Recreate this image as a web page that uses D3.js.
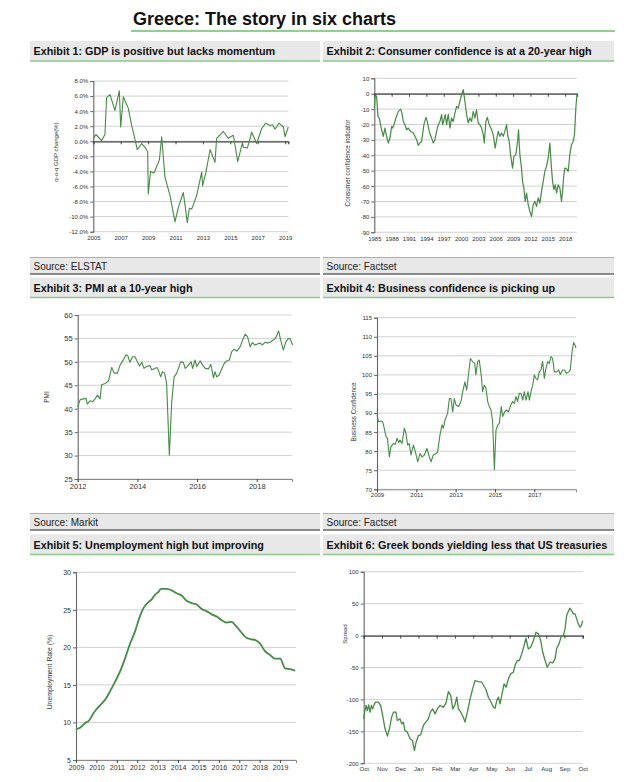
<!DOCTYPE html>
<html><head><meta charset="utf-8">
<script src="https://cdn.jsdelivr.net/npm/d3@7"></script>
<style>body{margin:0;background:#fff;} svg{display:block;font-family:"Liberation Sans",Arial,Helvetica,sans-serif;}</style>
</head><body><svg id="c" width="633" height="782"></svg>
<script>
const pageTitle = "Greece: The story in six charts";
const exhibitTitles = [
  "Exhibit 1: GDP is positive but lacks momentum",
  "Exhibit 2: Consumer confidence is at a 20-year high",
  "Exhibit 3: PMI at a 10-year high",
  "Exhibit 4: Business confidence is picking up",
  "Exhibit 5: Unemployment high but improving",
  "Exhibit 6: Greek bonds yielding less that US treasuries"
];
const sources = ["Source: ELSTAT", "Source: Factset", "Source: Markit", "Source: Factset"];
const yTitles = ["q-o-q GDP change(%)", "Consumer confidence indicator", "PMI", "Business Confidence", "Unemployment Rate (%)", "Spread"];

// Exhibit 1: GDP q-o-q change (%)
const gdpYears = [2005.0,2005.19,2005.61,2005.85,2005.97,2006.22,2006.58,2006.9,2007.0,2007.19,2007.55,2007.8,2007.92,2008.21,2008.53,2008.77,2008.97,2009.01,2009.18,2009.43,2009.82,2009.99,2010.23,2010.6,2010.96,2011.2,2011.57,2011.86,2012.01,2012.18,2012.54,2012.91,2012.98,2013.22,2013.52,2013.88,2014.0,2014.49,2014.85,2015.22,2015.54,2015.88,2015.95,2016.24,2016.56,2016.92,2017.29,2017.58,2017.9,2018.09,2018.26,2018.55,2018.87,2018.99,2019.23];
const gdpValues = [0.35,0.9,0.1,0.9,5.8,6.2,4.1,6.7,1.9,5.9,4.4,2.1,1.2,-1.1,-0.3,-0.8,-1.4,-7.0,-4.0,-4.2,-2.5,0.6,-4.8,-7.2,-10.7,-8.8,-6.8,-10.8,-8.9,-9.0,-7.2,-4.1,-5.9,-4.1,-1.1,-2.8,0.4,1.3,0.4,0.8,-2.7,-0.2,-0.8,-0.9,1.2,-0.3,1.7,2.4,2.1,2.2,1.6,2.4,1.9,0.6,1.9];
const gdpYTicks = [8,6,4,2,0,-2,-4,-6,-8,-10,-12];
const gdpXTicks = [2005,2007,2009,2011,2013,2015,2017,2019];

// Exhibit 2: Consumer confidence indicator
const ccYears = [1985.0,1985.17,1985.4,1985.63,1985.86,1986.27,1986.56,1986.84,1987.13,1987.42,1987.71,1988.0,1988.17,1988.4,1988.74,1989.15,1989.55,1989.78,1990.01,1990.3,1990.59,1990.88,1991.28,1991.74,1992.03,1992.32,1992.6,1992.89,1993.18,1993.58,1993.93,1994.16,1994.5,1994.91,1995.2,1995.48,1995.77,1996.06,1996.35,1996.64,1996.81,1997.04,1997.27,1997.5,1997.79,1998.08,1998.36,1998.65,1998.94,1999.23,1999.52,1999.8,2000.09,2000.38,2000.67,2000.96,2001.24,2001.53,2001.82,2002.11,2002.4,2002.68,2002.97,2003.26,2003.55,2003.84,2004.01,2004.3,2004.53,2004.87,2005.28,2005.56,2005.91,2006.14,2006.43,2006.72,2007.0,2007.29,2007.58,2007.87,2008.1,2008.33,2008.56,2008.91,2009.14,2009.48,2009.77,2009.94,2010.17,2010.46,2010.63,2010.86,2011.09,2011.33,2011.61,2011.9,2012.19,2012.48,2012.77,2013.05,2013.34,2013.63,2013.92,2014.21,2014.49,2014.78,2015.07,2015.36,2015.59,2015.82,2016.05,2016.28,2016.51,2016.8,2017.09,2017.37,2017.55,2017.78,2017.95,2018.24,2018.53,2018.81,2019.1,2019.39,2019.62,2019.85,2020.05];
const ccValues = [-9.3,-1,-1.7,-14.7,-15.8,-23.4,-27.7,-22.3,-27.7,-32,-28.8,-21.2,-22.3,-20.1,-15.8,-11.5,-10,-12.6,-18,-20.1,-23.4,-22.3,-24.5,-25.5,-27.7,-29.9,-33.5,-32,-31,-20.1,-15.4,-18,-24.5,-28.8,-32,-29.9,-24.5,-20.1,-18,-13.6,-20.1,-16.9,-13.6,-20.1,-13.2,-22.3,-15.8,-18,-12.6,-8.2,-9.3,-5,-0.6,2.6,-5,-13.6,-19,-15.8,-18,-11.5,-15.8,-10.4,-19,-20.1,-22.3,-26.6,-32,-18,-15.4,-20.1,-23.4,-26.6,-35.3,-29.9,-24.5,-27.7,-25.5,-27.7,-24.5,-20.1,-27.7,-31,-39.6,-48.3,-40.7,-39.6,-31,-23.4,-39.6,-48.3,-56.9,-61.3,-69.9,-64.5,-72,-76.4,-79.7,-72,-69.9,-73.2,-67.7,-71,-63.4,-56.9,-50.4,-47.2,-41.8,-32,-46.1,-56.9,-62.3,-59.1,-64.5,-59.1,-61.3,-69.9,-63.4,-52.6,-48.3,-48.7,-50.4,-39.6,-33.1,-31,-26.6,-9.3,0];
const ccYTicks = [10,0,-10,-20,-30,-40,-50,-60,-70,-80,-90];
const ccXTicks = [1985,1988,1991,1994,1997,2000,2003,2006,2009,2012,2015,2018];

// Exhibit 3: PMI
const pmiYears = [2012.0,2012.08,2012.19,2012.28,2012.32,2012.41,2012.5,2012.58,2012.66,2012.75,2012.8,2012.92,2013.03,2013.14,2013.22,2013.33,2013.42,2013.51,2013.62,2013.68,2013.75,2013.84,2013.92,2014.0,2014.07,2014.15,2014.22,2014.31,2014.42,2014.48,2014.56,2014.65,2014.7,2014.78,2014.84,2014.91,2014.98,2015.07,2015.15,2015.23,2015.32,2015.45,2015.54,2015.6,2015.71,2015.8,2015.85,2015.93,2015.99,2016.1,2016.19,2016.27,2016.38,2016.46,2016.55,2016.6,2016.66,2016.74,2016.83,2016.91,2016.99,2017.08,2017.16,2017.24,2017.33,2017.44,2017.53,2017.61,2017.69,2017.78,2017.85,2017.94,2018.02,2018.11,2018.19,2018.28,2018.37,2018.47,2018.56,2018.64,2018.73,2018.8,2018.89,2018.97,2019.06,2019.12,2019.2];
const pmiValues = [40.4,41.9,42.1,42.2,41.0,41.7,41.5,42.1,42.9,42.1,45.1,45.4,45.9,48.8,47.6,47.6,49.3,50.2,51.5,51.3,49.9,51.1,51.1,50.0,49.1,49.9,48.6,49.0,49.2,48.3,48.5,48.8,48.3,46.8,47.9,47.6,45.4,30.1,41.5,46.8,47.6,50.0,49.9,48.6,49.3,50.0,48.6,50.4,49.0,50.2,49.3,48.6,48.5,49.5,46.6,47.9,46.8,47.2,48.6,49.7,50.2,50.4,52.2,52.7,52.3,53.2,54.7,55.9,55.4,53.2,54.1,53.6,53.8,54.0,53.6,54.2,54.0,54.3,54.7,55.2,56.6,54.7,52.5,54.2,55.0,54.9,53.6];
const pmiYTicks = [60,55,50,45,40,35,30,25];
const pmiXTicks = [2012,2014,2016,2018];

// Exhibit 4: Business confidence
const bcYears = [2009.0,2009.08,2009.2,2009.29,2009.37,2009.46,2009.53,2009.63,2009.71,2009.83,2009.93,2010.02,2010.1,2010.17,2010.27,2010.39,2010.47,2010.56,2010.64,2010.73,2010.85,2010.95,2011.07,2011.19,2011.29,2011.41,2011.54,2011.66,2011.75,2011.86,2012.0,2012.08,2012.2,2012.31,2012.37,2012.47,2012.59,2012.68,2012.76,2012.85,2012.93,2013.02,2013.15,2013.27,2013.36,2013.47,2013.56,2013.64,2013.75,2013.86,2013.97,2014.03,2014.12,2014.2,2014.31,2014.37,2014.46,2014.54,2014.63,2014.71,2014.8,2014.88,2014.97,2015.05,2015.14,2015.22,2015.32,2015.39,2015.49,2015.59,2015.69,2015.8,2015.9,2015.98,2016.07,2016.15,2016.24,2016.32,2016.41,2016.49,2016.58,2016.68,2016.75,2016.83,2016.92,2017.0,2017.08,2017.17,2017.25,2017.34,2017.42,2017.51,2017.59,2017.68,2017.76,2017.85,2017.93,2018.02,2018.14,2018.24,2018.32,2018.44,2018.53,2018.64,2018.75,2018.83,2018.92,2019.0,2019.08,2019.12];
const bcValues = [89.5,87.7,87.9,87.7,86.0,83.8,83.4,78.5,81.2,82.0,81.8,83.4,82.3,82.9,82.0,86.0,84.7,81.6,82.0,79.0,81.6,79.9,77.2,79.4,78.5,79.0,80.7,78.5,77.2,79.0,79.4,79.7,84.2,86.9,86.0,88.4,89.9,93.8,93.8,90.3,93.8,92.1,91.7,93.0,95.6,98.2,96.0,99.5,104.3,103.5,103.0,100.0,103.5,103.9,99.5,95.6,97.3,96.5,93.0,91.7,90.8,87.7,75.1,85.5,86.9,87.3,91.7,89.1,90.3,90.8,90.3,92.1,93.0,92.5,94.3,93.0,95.2,95.2,93.4,95.6,93.4,95.6,93.4,95.6,97.3,100.0,99.1,98.7,100.8,101.3,103.6,99.1,101.7,103.5,103.0,104.8,104.3,100.8,100.8,101.3,100.1,101.3,101.3,100.4,100.8,101.3,106.1,108.5,107.7,107.0];
const bcYTicks = [115,110,105,100,95,90,85,80,75,70];
const bcXTicks = [2009,2011,2013,2015,2017];

// Exhibit 5: Unemployment rate (%)
const unYears = [2009.0,2009.2,2009.44,2009.65,2009.85,2010.01,2010.26,2010.47,2010.7,2010.91,2011.16,2011.4,2011.65,2011.89,2012.1,2012.3,2012.5,2012.71,2012.87,2013.04,2013.17,2013.44,2013.69,2013.93,2014.18,2014.42,2014.67,2014.92,2015.16,2015.41,2015.65,2015.9,2016.14,2016.39,2016.63,2016.79,2017.04,2017.29,2017.53,2017.77,2018.02,2018.26,2018.5,2018.75,2019.0,2019.25,2019.49,2019.74];
const unValues = [9.1,9.3,9.9,10.3,11.2,11.8,12.5,13.2,14.3,15.4,16.8,18.5,20.5,22.1,23.9,25.2,25.9,26.4,27.0,27.4,27.8,27.8,27.6,27.2,26.9,26.2,25.9,25.7,25.1,24.8,24.4,24.1,23.6,23.3,23.4,23.0,22.2,21.4,21.1,21.0,20.5,19.5,19.0,18.5,18.5,17.2,17.1,16.9];
const unYTicks = [30,25,20,15,10,5];
const unXTicks = [2009,2010,2011,2012,2013,2014,2015,2016,2017,2018,2019];

// Exhibit 6: Greek 10y minus US 10y spread (bp), months since Oct 2018
const spMonths = [0,0.05,0.13,0.2,0.27,0.35,0.42,0.49,0.57,0.64,0.8,0.93,1.04,1.17,1.3,1.41,1.53,1.63,1.77,1.84,1.99,2.08,2.17,2.26,2.39,2.54,2.67,2.78,2.87,3.0,3.12,3.27,3.4,3.54,3.67,3.78,3.91,4.04,4.18,4.37,4.51,4.64,4.77,4.88,5.0,5.1,5.19,5.32,5.46,5.55,5.68,5.83,5.97,6.1,6.28,6.47,6.59,6.7,6.83,6.96,7.11,7.2,7.29,7.38,7.47,7.56,7.69,7.8,7.93,8.05,8.2,8.29,8.42,8.53,8.66,8.79,8.89,9.02,9.15,9.3,9.44,9.57,9.7,9.81,9.94,10.06,10.21,10.36,10.48,10.58,10.7,10.81,10.94,11.03,11.12,11.21,11.3,11.39,11.49,11.58,11.67,11.76,11.85,11.94,12.0];
const spValues = [-130.4,-120,-109.5,-117.4,-108.5,-120,-109.5,-114.8,-108.5,-104.3,-104.3,-109.5,-125.2,-146,-157.5,-146,-127.8,-120,-120,-133,-130.4,-138.2,-135.6,-148.7,-151.3,-161.7,-164.3,-180,-167,-156.5,-155.5,-140.8,-135.6,-130.4,-119,-114.8,-122.6,-114.8,-109.5,-112.1,-105.4,-87.6,-94,-114.8,-108.5,-96.5,-114.8,-120,-127.8,-135.6,-120,-99.1,-83.5,-70.4,-72,-73,-79.3,-84.5,-96.5,-103.3,-112.1,-113.7,-101.7,-96.5,-107,-94,-75.6,-80.9,-67.8,-60,-57.4,-47,-39.1,-39.1,-28.7,-15.6,-4.2,-20.9,-18.3,-7.8,5.2,2.6,-7.8,-26.1,-39.1,-49.6,-41.7,-42.8,-36.5,-19.8,-13,-2.6,0,10.4,31.3,37.6,42.8,39.1,33.9,33.9,26.1,18.3,13,16.7,23.5];
const spYTicks = [100,50,0,-50,-100,-150,-200];
const spMonthLabels = ["Oct","Nov","Dec","Jan","Feb","Mar","Apr","May","Jun","Jul","Aug","Sep","Oct"];

const svg = d3.select("#c");
const GREEN_LINE = "#8cc88c";
const SERIES = "#458c45";

// Page title
svg.append("text").attr("x", 133).attr("y", 24.5).attr("font-size", 18).attr("font-weight", "bold").attr("fill", "#111").text(pageTitle);
svg.append("line").attr("x1", 131).attr("x2", 615).attr("y1", 31).attr("y2", 31).attr("stroke", "#6cbf6c").attr("stroke-width", 1.6);

const cols = [[30, 320], [323, 614]];
const headerTops = [41, 277.5, 534.5];
const sourceTops = [257.5, 513.5];

exhibitTitles.forEach((t, i) => {
  const c = cols[i % 2], top = headerTops[Math.floor(i / 2)];
  svg.append("rect").attr("x", c[0]).attr("y", top).attr("width", c[1] - c[0]).attr("height", 20).attr("fill", "#e8e8e8");
  svg.append("line").attr("x1", c[0]).attr("x2", c[1]).attr("y1", top + 20).attr("y2", top + 20).attr("stroke", GREEN_LINE).attr("stroke-width", 1.5);
  svg.append("text").attr("x", c[0] + 3.5).attr("y", top + 14.3).attr("font-size", 10.8).attr("font-weight", "bold").attr("fill", "#111").text(t);
});
sources.forEach((s, i) => {
  const c = cols[i % 2], top = sourceTops[Math.floor(i / 2)];
  svg.append("rect").attr("x", c[0]).attr("y", top).attr("width", c[1] - c[0]).attr("height", 16.5).attr("fill", "#e8e8e8");
  svg.append("line").attr("x1", c[0]).attr("x2", c[1]).attr("y1", top).attr("y2", top).attr("stroke", GREEN_LINE).attr("stroke-width", 1.2);
  svg.append("line").attr("x1", c[0]).attr("x2", c[1]).attr("y1", top + 16.5).attr("y2", top + 16.5).attr("stroke", "#222").attr("stroke-width", 1.2);
  svg.append("text").attr("x", c[0] + 3.5).attr("y", top + 12.3).attr("font-size", 10).attr("fill", "#222").text(s);
});

function drawChart(cfg) {
  const g = svg.append("g");
  const x = d3.scaleLinear().domain(cfg.xDomain).range([cfg.x0, cfg.x1]);
  const y = d3.scaleLinear().domain(cfg.yDomain).range([cfg.y1, cfg.y0]);
  g.selectAll(".grid").data(cfg.yTicks).join("line")
    .attr("x1", cfg.x0).attr("x2", cfg.x1).attr("y1", d => y(d)).attr("y2", d => y(d))
    .attr("stroke", "#d2d2d2").attr("stroke-width", 1);
  const yAxis = d3.axisLeft(y).tickValues(cfg.yTicks).tickSize(3).tickPadding(2).tickFormat(cfg.yFormat || (d => d));
  const ya = g.append("g").attr("transform", `translate(${cfg.x0},0)`).call(yAxis);
  ya.select(".domain").attr("stroke", "#666").attr("stroke-width", 1.1);
  ya.selectAll(".tick line").attr("stroke", "#666");
  ya.selectAll("text").attr("font-size", cfg.yFont).attr("fill", "#333").attr("font-family", "Liberation Sans, Arial, sans-serif");
  const axisY = cfg.zeroAxis ? y(0) : cfg.y1;
  const xAxisLine = d3.axisBottom(x).tickValues(cfg.xTickMarks).tickSize(3).tickFormat("");
  const xa = g.append("g").attr("transform", `translate(0,${axisY})`).call(xAxisLine);
  xa.select(".domain").attr("stroke", cfg.zeroAxis ? "#444" : "#888").attr("stroke-width", cfg.zeroAxis ? 1.3 : 1);
  xa.selectAll(".tick line").attr("stroke", "#444");
  const xLab = d3.axisBottom(x).tickValues(cfg.xTicks).tickSize(0).tickPadding(cfg.xPad).tickFormat(cfg.xFormat || (d => d));
  const xl = g.append("g").attr("transform", `translate(0,${cfg.y1})`).call(xLab);
  xl.select(".domain").remove();
  xl.selectAll("text").attr("font-size", cfg.xFont).attr("fill", "#333").attr("font-family", "Liberation Sans, Arial, sans-serif");
  g.append("text").attr("transform", `translate(${cfg.titleX},${cfg.titleY}) rotate(-90)`)
    .attr("text-anchor", "middle").attr("font-size", cfg.titleFont).attr("fill", "#333").text(cfg.title);
  const pts = cfg.xs.map((d, i) => [d, cfg.ys[i]]);
  const line = d3.line().x(d => x(d[0])).y(d => y(d[1])).curve(cfg.curve || d3.curveLinear);
  g.append("path").attr("d", line(pts)).attr("fill", "none").attr("stroke", SERIES)
    .attr("stroke-width", cfg.lw).attr("stroke-linejoin", "round");
}

const pct = d => d.toFixed(1) + "%";

drawChart({ x0: 93.3, x1: 288.3, y0: 81, y1: 231.7, xDomain: [2005, 2019.23], yDomain: [-12, 8],
  yTicks: gdpYTicks, yFormat: pct, xTicks: gdpXTicks, xTickMarks: gdpXTicks, zeroAxis: true,
  yFont: 6, xFont: 6, xPad: 4, title: yTitles[0], titleX: 57.5, titleY: 152, titleFont: 6,
  xs: gdpYears, ys: gdpValues, lw: 1.1 });

drawChart({ x0: 374.3, x1: 577, y0: 78.3, y1: 232.3, xDomain: [1985, 2020.05], yDomain: [-90, 10],
  yTicks: ccYTicks, xTicks: ccXTicks, xTickMarks: ccXTicks, zeroAxis: true,
  yFont: 6, xFont: 6, xPad: 4, title: yTitles[1], titleX: 350, titleY: 163, titleFont: 6.3,
  xs: ccYears, ys: ccValues, lw: 1.2 });

drawChart({ x0: 77.7, x1: 292, y0: 315, y1: 479, xDomain: [2012, 2019.18], yDomain: [25, 60],
  yTicks: pmiYTicks, xTicks: pmiXTicks, xTickMarks: pmiXTicks, zeroAxis: false,
  yFont: 7.5, xFont: 7.5, xPad: 4.5, title: yTitles[2], titleX: 49, titleY: 397, titleFont: 6.5,
  xs: pmiYears, ys: pmiValues, lw: 1.1 });

drawChart({ x0: 377, x1: 576, y0: 317.7, y1: 489.3, xDomain: [2009, 2019.12], yDomain: [70, 115],
  yTicks: bcYTicks, xTicks: bcXTicks, xTickMarks: bcXTicks, zeroAxis: false,
  yFont: 6, xFont: 6, xPad: 3.5, title: yTitles[3], titleX: 356, titleY: 412, titleFont: 6.3,
  xs: bcYears, ys: bcValues, lw: 1.1 });

drawChart({ x0: 76, x1: 296, y0: 572.3, y1: 760, xDomain: [2009, 2019.78], yDomain: [5, 30],
  yTicks: unYTicks, xTicks: unXTicks, xTickMarks: unXTicks, zeroAxis: false,
  yFont: 7, xFont: 7, xPad: 5, title: yTitles[4], titleX: 52, titleY: 672, titleFont: 6.8,
  xs: unYears, ys: unValues, lw: 1.8, curve: d3.curveMonotoneX });

drawChart({ x0: 363.7, x1: 582.7, y0: 571.7, y1: 763.3, xDomain: [0, 12], yDomain: [-200, 100],
  yTicks: spYTicks, xTicks: d3.range(spMonthLabels.length), xTickMarks: d3.range(spMonthLabels.length), zeroAxis: true,
  xFormat: i => spMonthLabels[i],
  yFont: 6, xFont: 6, xPad: 3.5, title: yTitles[5], titleX: 347, titleY: 634, titleFont: 6,
  xs: spMonths, ys: spValues, lw: 1.3 });
</script></body></html>
